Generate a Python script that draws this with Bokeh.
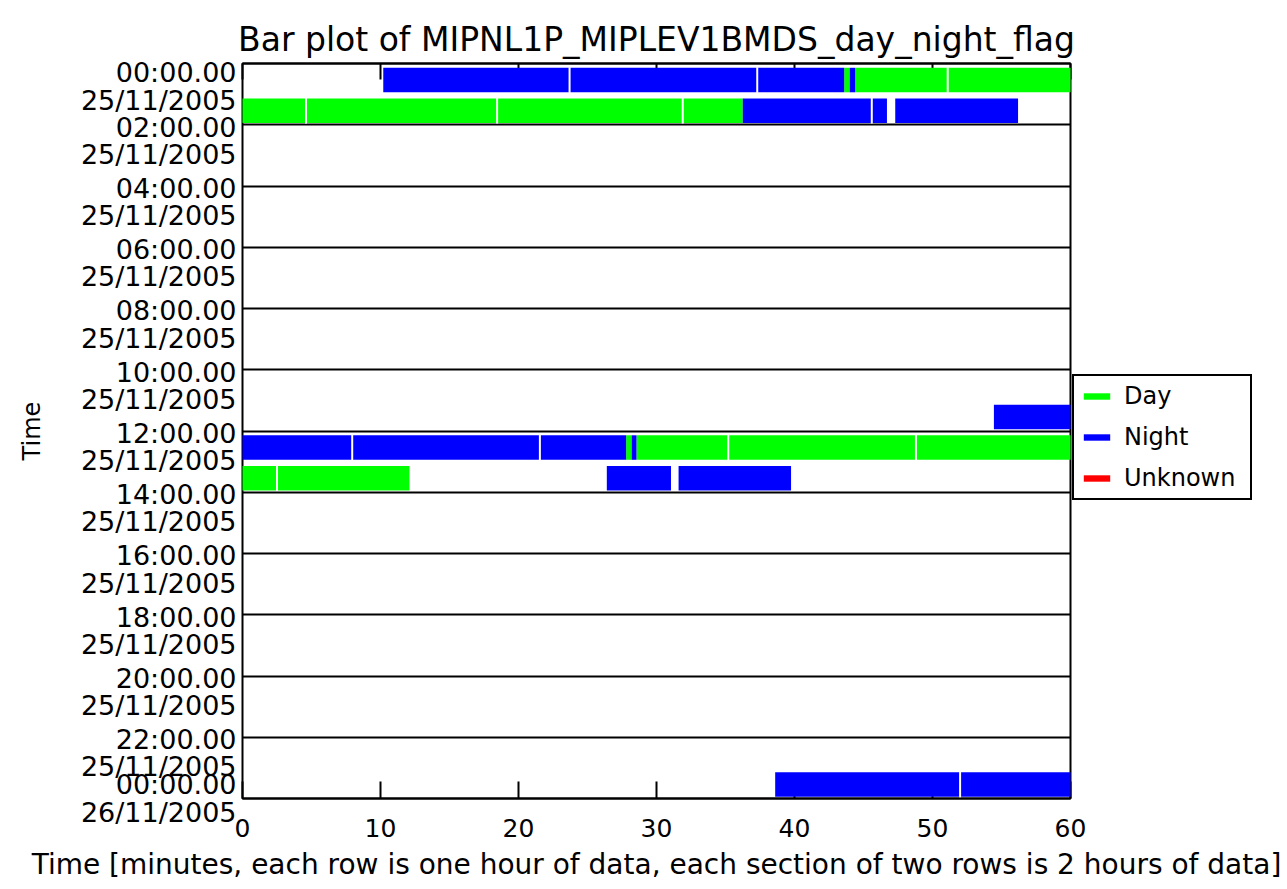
from bokeh.plotting import figure
from bokeh.models import (ColumnDataSource, Range1d, LinearAxis, FixedTicker,
                          Legend, LegendItem)
from bokeh.embed import file_html
from bokeh.resources import INLINE

FONT = "DejaVu Sans"

# ---------------- data ----------------
# contiguous runs of one flag value: hour row, start minute, end minute, flag
run_hour = [0, 0, 0, 0, 1, 1, 1, 11, 12, 12, 12, 12, 13, 13, 13, 23]
run_start = [10.2, 43.6, 44.0, 44.4, 0.0, 36.25, 47.3, 54.45, 0.0, 27.8, 28.2, 28.55,
             0.0, 26.4, 31.6, 38.6]
run_end = [43.6, 44.0, 44.4, 60.0, 36.25, 46.7, 56.2, 60.0, 27.8, 28.2, 28.55, 60.0,
           12.1, 31.05, 39.75, 60.0]
run_flag = ["Night", "Day", "Night", "Day", "Day", "Night", "Night", "Night",
            "Night", "Day", "Night", "Day", "Day", "Night", "Night", "Night"]

# granule boundaries (thin white separators) : hour row, minute
gap_hour = [0, 0, 0, 1, 1, 1, 1, 12, 12, 12, 12, 13, 23]
gap_min = [23.7, 37.3, 51.1, 4.6, 18.45, 31.9, 45.6, 7.95, 21.55, 35.2, 48.8, 2.5, 52.0]

section_hours = [0, 2, 4, 6, 8, 10, 12, 14, 16, 18, 20, 22, 24]
time_labels = ["00:00.00", "02:00.00", "04:00.00", "06:00.00", "08:00.00", "10:00.00",
               "12:00.00", "14:00.00", "16:00.00", "18:00.00", "20:00.00", "22:00.00",
               "00:00.00"]
date_labels = ["25/11/2005"] * 12 + ["26/11/2005"]
x_ticks = [0, 10, 20, 30, 40, 50, 60]

flags = ["Day", "Night", "Unknown"]
flag_colors = ["#00ff00", "#0000ff", "#ff0000"]

title_text = "Bar plot of MIPNL1P_MIPLEV1BMDS_day_night_flag"
xlabel = ("Time [minutes, each row is one hour of data, each section of two rows "
          "is 2 hours of data]")
ylabel = "Time"

# ---------------- figure ----------------
FRAME_W, FRAME_H = 828, 735
p = figure(frame_width=FRAME_W, frame_height=FRAME_H,
           min_border_left=242, min_border_right=200, min_border_top=63,
           min_border_bottom=89,
           x_range=Range1d(0, 60), y_range=Range1d(24, 0),
           output_backend="svg", toolbar_location=None,
           title=title_text, x_axis_location="below")
p.title.align = "center"
p.title.text_font = FONT
p.title.text_font_size = "33px"
p.title.text_font_style = "normal"
p.title.text_color = "black"
p.outline_line_color = "black"
p.outline_line_width = 2
p.background_fill_color = "white"
p.border_fill_color = "white"

# grid: section separators
p.xgrid.visible = False
p.ygrid.ticker = FixedTicker(ticks=section_hours)
p.ygrid.grid_line_color = "black"
p.ygrid.grid_line_width = 2

# bottom axis
xa = p.xaxis[0]
xa.ticker = FixedTicker(ticks=x_ticks)
xa.major_tick_in = 17
xa.major_tick_out = 0
xa.minor_tick_line_color = None
xa.major_tick_line_width = 2
xa.axis_line_width = 2
xa.major_label_standoff = 20
xa.major_label_text_font = FONT
xa.major_label_text_font_size = "25px"
xa.major_label_text_color = "black"
xa.axis_label = xlabel
xa.axis_label_text_font = FONT
xa.axis_label_text_font_size = "28px"
xa.axis_label_text_font_style = "normal"
xa.axis_label_text_color = "black"
xa.axis_label_standoff = 8

# top axis (ticks only)
ta = LinearAxis(ticker=FixedTicker(ticks=x_ticks), major_tick_in=16, major_tick_out=0,
                minor_tick_line_color=None, major_tick_line_width=2, axis_line_width=2,
                major_label_overrides={t: "" for t in x_ticks})
p.add_layout(ta, "above")

# left axis: two-line "time / date" labels at each section boundary
px_per_hour = FRAME_H / 24.0
n = len(section_hours)
label_pos = []
label_txt = {}
for i, (h, t, d) in enumerate(zip(section_hours, time_labels, date_labels)):
    shift_px = 23 if i == 0 else (0 if i == n - 1 else 16)   # block centre below boundary
    pos = h + shift_px / px_per_hour
    label_pos.append(pos)
    label_txt[pos] = t + "\n" + d

ya = p.yaxis[0]
ya.ticker = FixedTicker(ticks=label_pos)
ya.major_label_overrides = label_txt
ya.minor_tick_line_color = None
ya.major_tick_line_color = None
ya.axis_line_color = None
ya.major_label_standoff = 0
ya.major_label_text_font = FONT
ya.major_label_text_font_size = "27px"
ya.major_label_text_line_height = 0.88
ya.major_label_text_color = "black"
ya.axis_label = ylabel
ya.axis_label_text_font = FONT
ya.axis_label_text_font_size = "24px"
ya.axis_label_text_font_style = "normal"
ya.axis_label_text_color = "black"
ya.axis_label_standoff = 32

# ---------------- bars ----------------
color_of = dict(zip(flags, flag_colors))
BAR_TOP, BAR_BOT = 0.14, 0.94
renderers = {}
for f in flags:
    idx = [i for i, fl in enumerate(run_flag) if fl == f]
    if idx:
        src = ColumnDataSource(dict(
            left=[run_start[i] for i in idx],
            right=[run_end[i] for i in idx],
            top=[run_hour[i] + BAR_TOP for i in idx],
            bottom=[run_hour[i] + BAR_BOT for i in idx]))
        renderers[f] = p.quad(left="left", right="right", top="top", bottom="bottom",
                              source=src, fill_color=color_of[f], line_color=None,
                              level="overlay")
    else:
        # flag absent from the data: zero-area proxy so the legend still shows it
        renderers[f] = p.quad(left=0, right=0, top=0, bottom=0,
                              fill_color=color_of[f], line_color=None)

gsrc = ColumnDataSource(dict(
    x=gap_min,
    y0=[h + BAR_TOP - 0.02 for h in gap_hour],
    y1=[h + BAR_BOT + 0.02 for h in gap_hour]))
p.segment(x0="x", y0="y0", x1="x", y1="y1", source=gsrc, line_color="white",
          line_width=2, level="overlay")

# ---------------- legend ----------------
legend = Legend(items=[LegendItem(label=f, renderers=[renderers[f]]) for f in flags],
                location=(2, 298), orientation="vertical",
                border_line_color="black", border_line_width=2, border_line_alpha=1.0,
                padding=6, spacing=13, margin=0,
                glyph_width=33, glyph_height=8, label_standoff=11,
                label_text_font=FONT, label_text_font_size="24px",
                label_text_color="black", label_height=26, label_width=120)
p.add_layout(legend, "right")

open("out.html", "w").write(file_html(p, INLINE))
